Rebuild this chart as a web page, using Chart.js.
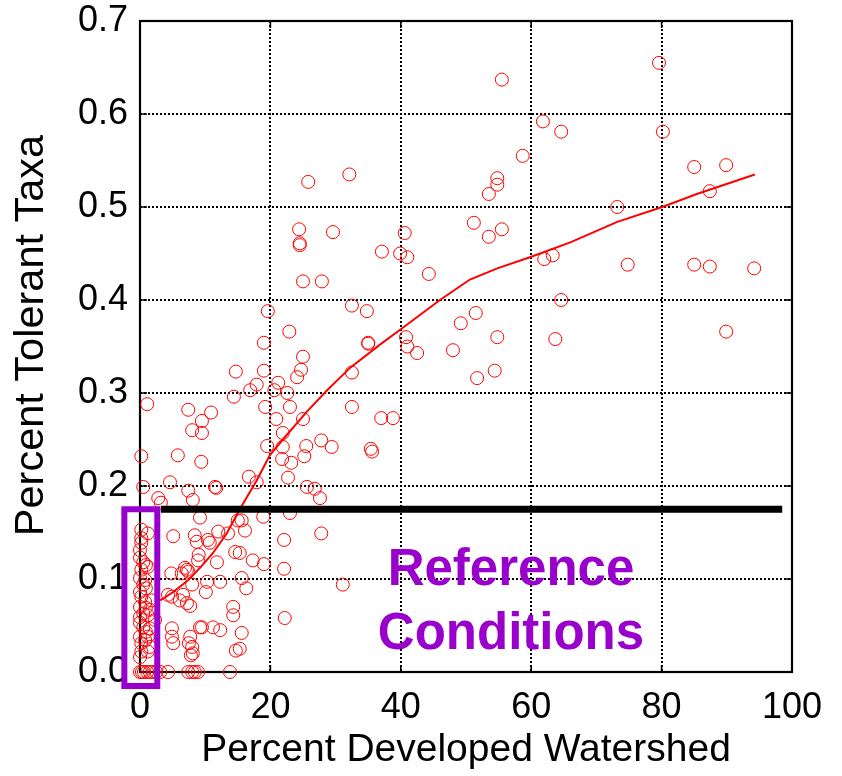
<!DOCTYPE html>
<html><head><meta charset="utf-8">
<script src="https://cdn.jsdelivr.net/npm/chart.js@4.4.1/dist/chart.umd.min.js"></script>
<style>html,body{margin:0;padding:0;background:#fff}#wrap{width:842px;height:776px}</style>
</head><body><div id="wrap"><canvas id="c" width="842" height="776"></canvas></div>
<script>
// ---- data ----
const xTickValues = [0, 20, 40, 60, 80, 100];
const yTickValues = [0.0, 0.1, 0.2, 0.3, 0.4, 0.5, 0.6, 0.7];

const devPct = [
 55.5,79.6,61.8,64.6,80.2,58.7,85.0,89.9,54.8,54.8,53.5,87.4,73.2,51.2,55.5,53.5,62.0,63.3,74.8,85.0,87.4,94.2,64.6,51.5,54.8,63.7,89.9,54.4,51.7,
 32.1,40.6,37.1,39.9,41.0,44.3,32.5,34.8,35.0,35.0,40.8,41.0,42.5,48.0,49.2,32.5,32.5,37.0,38.8,35.4,29.6,25.8,24.4,24.5,24.5,25.0,27.9,19.6,22.9,19.0,
 25.0,24.7,24.1,14.7,19.0,17.9,16.9,21.2,20.6,22.6,14.4,19.2,23.0,20.9,25.0,1.1,7.4,10.9,9.5,8.0,9.5,0.2,5.8,9.4,21.9,19.5,21.9,25.5,25.2,27.8,29.4,
 21.8,23.2,22.7,16.7,17.9,25.6,26.8,27.6,0.5,4.6,7.4,11.5,11.7,2.8,3.2,8.1,35.6,
 23.0,18.9,15.6,16.1,22.1,27.8,17.3,19.0,22.1,15.3,15.6,16.3,31.1,22.2,15.6,15.3,9.2,5.1,8.4,8.7,10.4,10.7,12.0,13.5,14.6,15.0,9.0,8.9,6.9,7.2,7.4,6.4,
 11.8,4.8,8.0,10.3,10.1,12.3,4.9,6.1,7.2,7.7,14.3,14.3,4.9,4.9,5.1,7.7,7.5,8.0,8.1,9.2,9.5,11.2,12.3,14.7,6.6,4.3,7.8,
 0.2,0.2,0.2,0.0,1.2,0.0,0.5,1.2,0.2,0.9,0.0,0.8,0.5,0.9,0.0,0.2,0.8,0.0,0.9,1.5,0.5,1.2,0.0,0.0,0.5,1.5,0.9,0.0,0.8,1.2,0.2,1.5,0.2,1.2,0.0,1.8,2.3,
 0.0,0.3,0.6,1.1,1.5,2.0,2.5,3.1,4.3,7.4,8.0,8.4,8.9,13.8
];
const tolerant = [
 0.637,0.655,0.592,0.581,0.581,0.555,0.543,0.545,0.531,0.524,0.514,0.517,0.500,0.483,0.476,0.468,0.444,0.448,0.438,0.438,0.436,0.434,0.400,0.386,0.360,0.358,0.366,0.324,0.316,
 0.535,0.472,0.452,0.450,0.446,0.428,0.394,0.388,0.354,0.353,0.360,0.350,0.343,0.346,0.375,0.322,0.285,0.273,0.273,0.240,0.473,0.527,0.476,0.461,0.459,0.420,0.420,0.388,0.366,0.354,
 0.339,0.325,0.317,0.323,0.324,0.309,0.303,0.311,0.303,0.300,0.296,0.285,0.285,0.272,0.272,0.288,0.282,0.279,0.270,0.260,0.257,0.232,0.233,0.226,0.257,0.243,0.242,0.243,0.232,0.249,0.242,
 0.229,0.225,0.209,0.210,0.204,0.199,0.197,0.187,0.199,0.204,0.195,0.199,0.198,0.187,0.182,0.185,0.237,
 0.171,0.167,0.163,0.152,0.142,0.149,0.120,0.116,0.111,0.128,0.101,0.090,0.094,0.058,0.042,0.025,0.166,0.146,0.147,0.140,0.142,0.139,0.151,0.149,0.129,0.163,0.126,0.120,0.112,0.110,0.108,0.106,
 0.118,0.106,0.094,0.097,0.086,0.097,0.081,0.077,0.074,0.071,0.070,0.061,0.047,0.038,0.031,0.038,0.031,0.027,0.020,0.048,0.048,0.048,0.045,0.023,0.083,0.083,0.018,
 0.153,0.144,0.139,0.131,0.149,0.123,0.118,0.113,0.110,0.115,0.101,0.099,0.094,0.090,0.086,0.081,0.075,0.070,0.069,0.067,0.063,0.061,0.059,0.053,0.048,0.047,0.043,0.038,0.034,0.038,0.031,0.027,0.022,0.022,0.016,0.077,0.056,
 0,0,0,0,0,0,0,0,0,0,0,0,0,0
];

// smoothed trend line
const trendX = [3.1,5.1,7.4,9.2,11.2,13.3,15.3,17.9,19.9,21.9,25.6,28.7,32.2,36.8,39.9,46.0,50.6,54.8,59.8,66.0,73.2,80.1,85.4,94.3];
const trendY = [0.077,0.086,0.099,0.112,0.128,0.149,0.175,0.206,0.233,0.250,0.280,0.303,0.327,0.352,0.368,0.400,0.422,0.434,0.446,0.462,0.484,0.500,0.514,0.535];

// reference threshold line
const thresholdX = [3.2, 98.5];
const thresholdValue = 0.175;

// reference-condition box
const boxX = [-2.4, 2.65, 2.65, -2.4, -2.4];
const boxY = [0.175, 0.175, -0.015, -0.015, 0.175];

const annotationLines = ['Reference', 'Conditions'];
const annotationX = 56.9;
const annotationY = [0.0935, 0.0247];

const xTitle = 'Percent Developed Watershed';
const yTitle = 'Percent Tolerant Taxa';

// ---- build datasets ----
const sites = devPct.map((x, i) => ({x: x, y: tolerant[i]}));
const trend = trendX.map((x, i) => ({x: x, y: trendY[i]}));
const threshold = thresholdX.map(x => ({x: x, y: thresholdValue}));
const box = boxX.map((x, i) => ({x: x, y: boxY[i]}));

const FONT = "'Liberation Sans', Arial, Helvetica, sans-serif";
const PURPLE = '#9900cc';

const framePlugin = {
  id: 'frame',
  beforeDatasetsDraw(chart) {
    const {ctx, chartArea: a, scales: {x, y}} = chart;
    ctx.save();
    ctx.strokeStyle = '#000';
    ctx.lineWidth = 1.6;
    const tl = 7;
    ctx.beginPath();
    xTickValues.forEach(v => {
      const px = x.getPixelForValue(v);
      ctx.moveTo(px, a.bottom); ctx.lineTo(px, a.bottom - tl);
      ctx.moveTo(px, a.top); ctx.lineTo(px, a.top + tl);
    });
    yTickValues.forEach(v => {
      const py = y.getPixelForValue(v);
      ctx.moveTo(a.left, py); ctx.lineTo(a.left + tl, py);
      ctx.moveTo(a.right, py); ctx.lineTo(a.right - tl, py);
    });
    ctx.stroke();
    ctx.lineWidth = 2.2;
    ctx.strokeRect(a.left, a.top, a.right - a.left, a.bottom - a.top);
    ctx.restore();
  }
};

const labelPlugin = {
  id: 'refLabel',
  afterDatasetsDraw(chart) {
    const {ctx, chartArea: a, scales: {x, y}} = chart;
    ctx.save();
    ctx.fillStyle = PURPLE;
    ctx.font = 'bold 51px ' + FONT;
    ctx.textAlign = 'center';
    ctx.textBaseline = 'alphabetic';
    annotationLines.forEach((t, i) => {
      ctx.fillText(t, x.getPixelForValue(annotationX), y.getPixelForValue(annotationY[i]));
    });
    // y-axis title
    ctx.fillStyle = '#000';
    ctx.font = '41.5px ' + FONT;
    ctx.textBaseline = 'middle';
    ctx.translate(32, (a.top + a.bottom) / 2 - 11);
    ctx.rotate(-Math.PI / 2);
    ctx.fillText(yTitle, 0, 0);
    ctx.restore();
  }
};

new Chart(document.getElementById('c'), {
  type: 'scatter',
  data: {
    datasets: [
      {type: 'scatter', label: 'Sites', data: sites, pointStyle: 'circle', pointRadius: 6.5,
       borderColor: '#ff0000', backgroundColor: 'rgba(0,0,0,0)', borderWidth: 1, clip: false, order: 3},
      {type: 'line', label: 'Trend', data: trend, borderColor: '#ff0000', borderWidth: 2,
       pointRadius: 0, fill: false, tension: 0, order: 2},
      {type: 'line', label: 'Threshold', data: threshold, borderColor: '#000', borderWidth: 7,
       pointRadius: 0, fill: false, order: 1},
      {type: 'line', label: 'Box', data: box, borderColor: PURPLE, borderWidth: 6, pointRadius: 0,
       fill: false, clip: false, borderJoinStyle: 'miter', borderCapStyle: 'square', order: 0}
    ]
  },
  options: {
    responsive: false, animation: false, devicePixelRatio: 1,
    layout: {padding: {left: 0, top: 21, right: 50, bottom: 0}},
    plugins: {legend: {display: false}, tooltip: {enabled: false}},
    scales: {
      x: {
        type: 'linear', min: 0, max: 100,
        afterBuildTicks(s) { s.ticks = xTickValues.map(v => ({value: v})); },
        afterFit(s) { s.height = 104; s.paddingLeft = 0; s.paddingRight = 0; },
        ticks: {color: '#000', font: {family: FONT, size: 36, lineHeight: 1}, padding: 18, maxRotation: 0,
                callback: v => String(v)},
        grid: {color: '#000', lineWidth: 2, drawTicks: false},
        border: {display: false, dash: [2, 2]},
        title: {display: true, text: xTitle, color: '#000', font: {family: FONT, size: 39, lineHeight: 1.2},
                padding: {top: 2, bottom: 2}}
      },
      y: {
        type: 'linear', min: 0, max: 0.7,
        afterBuildTicks(s) { s.ticks = yTickValues.map(v => ({value: v})); },
        afterFit(s) { s.width = 140; s.paddingTop = 0; s.paddingBottom = 0; },
        ticks: {color: '#000', font: {family: FONT, size: 36, lineHeight: 1}, padding: 12,
                callback: v => Number(v).toFixed(1)},
        grid: {color: '#000', lineWidth: 2, drawTicks: false},
        border: {display: false, dash: [2, 2]},
        title: {display: false}
      }
    }
  },
  plugins: [framePlugin, labelPlugin]
});
</script>
</body></html>
